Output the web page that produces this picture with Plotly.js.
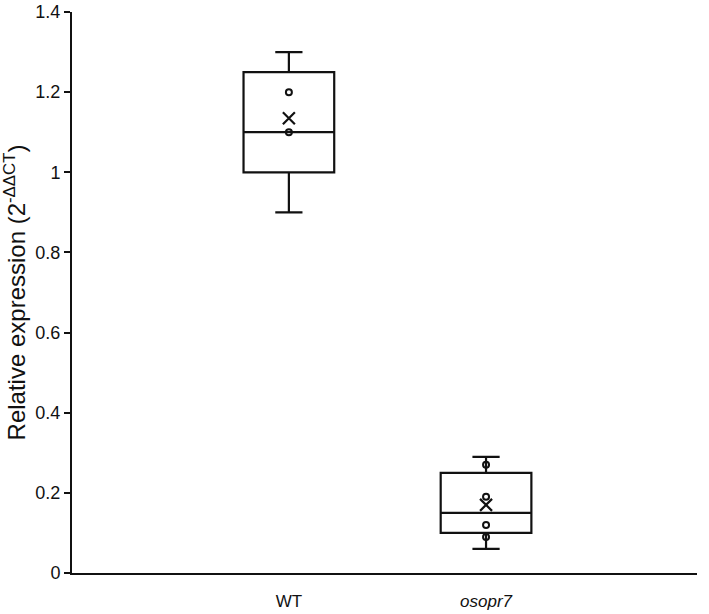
<!DOCTYPE html>
<html>
<head>
<meta charset="utf-8">
<script src="https://cdn.plot.ly/plotly-3.0.1.min.js"></script>
<style>html,body{margin:0;padding:0;background:#fff;}#chart{width:709px;height:614px;}</style>
</head>
<body>
<div id="chart"></div>
<script>
// Categories and tick labels
const categories = ["WT", "osopr7"];
const tickLabels = ["WT", "<i>osopr7</i>"];
// Box statistics
const q1Values = [1.0, 0.10];
const medianValues = [1.1, 0.15];
const q3Values = [1.25, 0.25];
const lowerWhisker = [0.9, 0.06];
const upperWhisker = [1.3, 0.29];
const meanValues = [1.135, 0.17];
// Inner points
const wtPoints = [1.2, 1.1];
const osopr7Points = [0.27, 0.19, 0.12, 0.09];

const boxTrace = {
  type: "box",
  x: categories,
  q1: q1Values,
  median: medianValues,
  q3: q3Values,
  lowerfence: lowerWhisker,
  upperfence: upperWhisker,
  width: 0.46,
  whiskerwidth: 0.3,
  line: {color: "#111", width: 2.2},
  fillcolor: "rgba(255,255,255,0)",
  boxpoints: false,
  hoverinfo: "skip",
  showlegend: false
};

const pointsX = [];
const pointsY = [];
wtPoints.forEach(v => { pointsX.push(categories[0]); pointsY.push(v); });
osopr7Points.forEach(v => { pointsX.push(categories[1]); pointsY.push(v); });

const pointTrace = {
  type: "scatter",
  mode: "markers",
  x: pointsX,
  y: pointsY,
  marker: {symbol: "circle-open", size: 6, color: "#111", line: {width: 2, color: "#111"}},
  showlegend: false,
  hoverinfo: "skip"
};

const meanTrace = {
  type: "scatter",
  mode: "markers",
  x: categories,
  y: meanValues,
  marker: {symbol: "x-thin-open", size: 12, color: "#111", line: {width: 2.2, color: "#111"}},
  showlegend: false,
  hoverinfo: "skip"
};

const layout = {
  width: 709,
  height: 614,
  margin: {l: 72, r: 12, t: 12, b: 41},
  paper_bgcolor: "#fff",
  plot_bgcolor: "#fff",
  font: {family: "Liberation Sans, Arial, sans-serif", color: "#111"},
  xaxis: {
    type: "category",
    categoryorder: "array",
    categoryarray: categories,
    tickvals: categories,
    ticktext: tickLabels,
    range: [-1.1, 2.07],
    showline: true,
    linecolor: "#111",
    linewidth: 2,
    ticks: "",
    showgrid: false,
    zeroline: false,
    tickfont: {size: 17, color: "#111"},
    ticklabelstandoff: 12
  },
  yaxis: {
    range: [0, 1.4],
    tickvals: [0, 0.2, 0.4, 0.6, 0.8, 1, 1.2, 1.4],
    ticktext: ["0", "0.2", "0.4", "0.6", "0.8", "1", "1.2", "1.4"],
    showline: true,
    linecolor: "#111",
    linewidth: 2,
    ticks: "outside",
    ticklen: 6,
    tickwidth: 2,
    tickcolor: "#111",
    showgrid: false,
    zeroline: false,
    tickfont: {size: 18, color: "#111"},
    title: {text: "Relative expression (2<sup>-ΔΔCT</sup>)", font: {size: 24, color: "#111"}, standoff: 6}
  }
};

Plotly.newPlot("chart", [boxTrace, pointTrace, meanTrace], layout, {displayModeBar: false, staticPlot: true});
</script>
</body>
</html>
